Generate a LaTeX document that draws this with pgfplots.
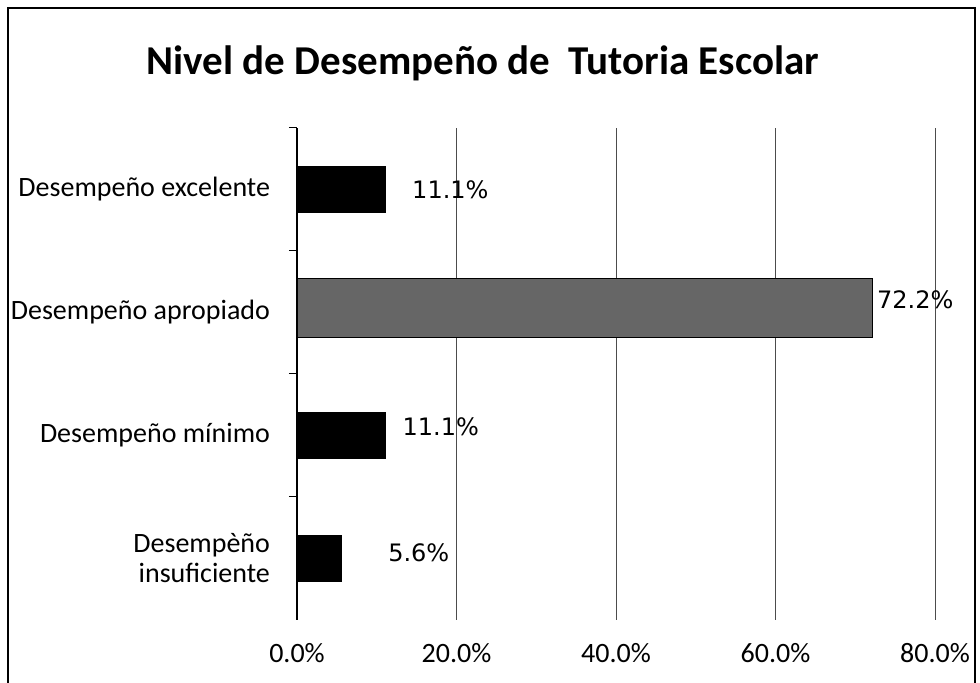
\documentclass[border=0pt]{standalone}
\usepackage{fontspec}
\setmainfont{Carlito}
\newfontfamily\dejavu{DejaVu Sans}
\usepackage{pgfplots}
\pgfplotsset{compat=1.18}
\begin{document}
\begin{tikzpicture}
\useasboundingbox (0pt,0pt) rectangle (490pt,341.5pt);
\draw[line width=0.8pt] (4pt,-5pt) rectangle (487.5pt,337.5pt);
\node[font=\fontsize{20.5}{24}\selectfont\bfseries] at (241.5pt,310pt) {Nivel de Desempeño de\ \ Tutoria Escolar};
\begin{axis}[at={(148.5pt,31.5pt)}, anchor=south west, scale only axis,
  width=319pt, height=246pt,
  xmin=0, xmax=80, ymin=-0.5, ymax=3.5,
  xtick={0,20,40,60,80},
  xticklabel={\pgfmathprintnumber[fixed,fixed zerofill,precision=1]{\tick}\%},
  /pgf/number format/assume math mode=true,
  xticklabel style={font=\fontsize{14}{16}\selectfont, yshift=-8pt},
  xtick style={draw=none},
  xmajorgrids, grid style={black!70, line width=0.45pt},
  axis line style={draw=none},
  ytick pos=left,
  ytick={0,1,2,3},
  yticklabels={{Desempèño\\insuficiente},{Desempeño mínimo},{Desempeño apropiado},{Desempeño excelente}},
  yticklabel style={align=right, font=\fontsize{14}{15}\selectfont, xshift=-10pt},
  ytick style={draw=none},
  extra y ticks={0.5,1.5,2.5,3.5},
  extra y tick labels={},
  extra y tick style={ytick style={draw=black, line width=0.5pt}, tick align=outside, major tick length=4pt, grid=none},
  clip=false]
\draw[black, line width=0.9pt] (axis cs:0,-0.5) -- (axis cs:0,3.5);
\addplot[xbar, bar width=23pt, bar shift=0pt, fill=black, draw=black] coordinates {(5.6,0) (11.1,1) (11.1,3)};
\addplot[xbar, bar width=29.5pt, bar shift=2.5pt, fill=black!60, draw=black] coordinates {(72.2,2)};
\addplot[draw=none, mark=none, nodes near coords, point meta=explicit symbolic,
  every node near coord/.style={font=\dejavu\fontsize{12}{14}\selectfont, anchor=west, inner sep=0pt, black}]
  coordinates {(14.4,3) [11.1\%] (72.7,2.1) [72.2\%] (13.2,1.07) [11.1\%] (11.4,0.045) [5.6\%]};
\end{axis}
\end{tikzpicture}
\end{document}
